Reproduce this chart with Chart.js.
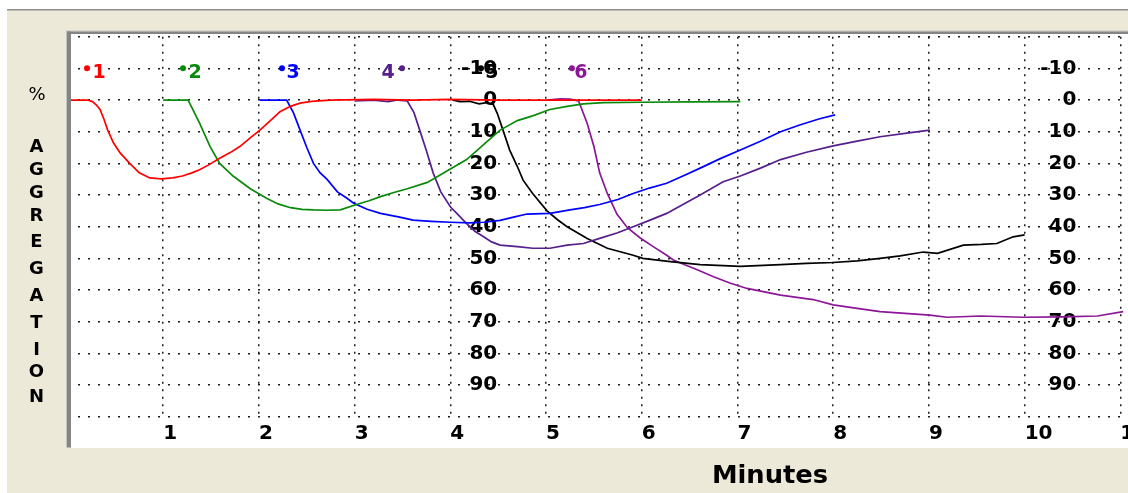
<!DOCTYPE html>
<html>
<head>
<meta charset="utf-8">
<script src="https://cdn.jsdelivr.net/npm/chart.js@4.4.1/dist/chart.umd.min.js"></script>
<style>
  html, body { margin: 0; padding: 0; background: #ffffff; }
  canvas { display: block; }
</style>
</head>
<body>
<canvas id="agg" width="1128" height="493"></canvas>
<script>
// Platelet aggregation traces, six channels; time in minutes, aggregation in %
const minutes1 = [0, 0.21, 0.26, 0.30, 0.34, 0.38, 0.42, 0.48, 0.55, 0.65, 0.75, 0.86, 0.98, 1.10, 1.20, 1.30, 1.38, 1.48, 1.59, 1.70, 1.80, 1.90, 2.01, 2.12, 2.22, 2.33, 2.43, 2.55, 2.74, 3.20, 3.60, 4.00, 4.50, 5.00, 5.50, 6.00];
const aggregation1 = [0, 0, 0.5, 1.5, 3, 6, 9.5, 13.5, 16.7, 20, 23, 24.6, 24.9, 24.6, 24, 23, 22, 20.4, 18.4, 16.6, 14.7, 12.2, 9.5, 6.5, 3.7, 2, 1, 0.4, 0, -0.2, 0, -0.2, 0, 0, 0, 0];

const minutes2 = [1.00, 1.26, 1.31, 1.38, 1.49, 1.59, 1.73, 1.91, 2.08, 2.20, 2.33, 2.45, 2.57, 2.70, 2.85, 3.02, 3.15, 3.27, 3.41, 3.55, 3.76, 3.96, 4.17, 4.38, 4.52, 4.70, 4.86, 5.04, 5.22, 5.39, 5.60, 6.00, 6.50, 7.03];
const aggregation2 = [0, 0, 3, 7.3, 14.7, 20, 24, 28, 31, 32.8, 34, 34.5, 34.7, 34.8, 34.7, 33, 31.8, 30.5, 29.2, 28, 26, 22.5, 18.8, 13.2, 9.5, 6.5, 5, 3, 2, 1.2, 0.8, 0.7, 0.6, 0.5];

const minutes3 = [2.01, 2.29, 2.36, 2.43, 2.50, 2.57, 2.64, 2.71, 2.82, 2.92, 2.99, 3.13, 3.27, 3.47, 3.61, 3.80, 4.00, 4.20, 4.35, 4.52, 4.66, 4.80, 5.04, 5.25, 5.40, 5.56, 5.75, 5.91, 6.08, 6.26, 6.43, 6.61, 6.82, 7.03, 7.24, 7.45, 7.65, 7.85, 8.02];
const aggregation3 = [0, 0, 4, 9.5, 15, 20, 23, 25, 29, 31, 32.6, 34.5, 35.8, 37, 37.9, 38.3, 38.6, 38.8, 38.6, 38, 37, 36, 35.8, 34.7, 34, 33, 31.4, 29.5, 27.8, 26.3, 24, 21.5, 18.5, 15.8, 13, 10, 7.9, 6, 4.7];

const minutes4 = [3.00, 3.20, 3.35, 3.45, 3.55, 3.62, 3.68, 3.75, 3.82, 3.90, 4.00, 4.09, 4.17, 4.26, 4.34, 4.43, 4.52, 4.70, 4.86, 5.04, 5.22, 5.39, 5.56, 5.74, 5.91, 6.08, 6.26, 6.43, 6.61, 6.85, 7.03, 7.24, 7.45, 7.72, 8.00, 8.25, 8.49, 8.75, 9.01];
const aggregation4 = [0.3, 0, 0.5, 0, 0.3, 4, 9.5, 16, 23, 29, 33.7, 36.5, 39, 41.5, 43, 44.8, 45.8, 46.3, 46.8, 46.8, 45.8, 45.3, 43.7, 42, 40, 38, 35.8, 33, 30, 25.8, 24, 21.5, 18.8, 16.5, 14.5, 13, 11.6, 10.5, 9.5];

const minutes5 = [4.02, 4.10, 4.20, 4.30, 4.38, 4.45, 4.49, 4.55, 4.62, 4.70, 4.76, 4.86, 5.01, 5.12, 5.22, 5.43, 5.64, 5.91, 6.01, 6.30, 6.61, 7.03, 7.45, 7.72, 8.00, 8.25, 8.49, 8.70, 8.94, 9.09, 9.36, 9.55, 9.71, 9.88, 10.00];
const aggregation5 = [0, 0.5, 0.4, 1.2, 0.8, 1.5, 4.2, 9.5, 15.8, 21, 25.3, 29.5, 35, 37.8, 40, 43.7, 46.8, 49, 50, 51, 52, 52.5, 52, 51.6, 51.3, 50.8, 50, 49.2, 48, 48.4, 45.8, 45.6, 45.3, 43.2, 42.6];

const minutes6 = [5.01, 5.15, 5.25, 5.34, 5.43, 5.50, 5.56, 5.64, 5.74, 5.85, 5.98, 6.12, 6.26, 6.33, 6.45, 6.58, 6.75, 6.92, 7.10, 7.45, 7.79, 8.00, 8.25, 8.49, 8.75, 9.01, 9.19, 9.54, 9.98, 10.40, 10.76, 11.03];
const aggregation6 = [0, -0.4, -0.3, 0.3, 7.4, 14.7, 23, 29.5, 36, 40.3, 43.5, 46.3, 49, 50.5, 52, 53.6, 55.8, 57.8, 59.5, 61.6, 63, 64.7, 65.8, 66.8, 67.4, 67.9, 68.6, 68.2, 68.6, 68.5, 68.2, 66.8];

const channelNames = ['1', '2', '3', '4', '5', '6'];
const channelColors = ['#ff0000', '#0a8a0a', '#0000ff', '#561f8c', '#000000', '#8c1796'];
const minuteTicks = [1, 2, 3, 4, 5, 6, 7, 8, 9, 10, 11];
const percentTicks = [-10, 0, 10, 20, 30, 40, 50, 60, 70, 80, 90];
const yAxisLetters = ['A', 'G', 'G', 'R', 'E', 'G', 'A', 'T', 'I', 'O', 'N'];

const series = [
  [minutes1, aggregation1],
  [minutes2, aggregation2],
  [minutes3, aggregation3],
  [minutes4, aggregation4],
  [minutes5, aggregation5],
  [minutes6, aggregation6]
];

const datasets = series.map(([t, v], i) => ({
  label: channelNames[i],
  data: t.map((m, k) => ({ x: m, y: v[k] })),
  borderColor: channelColors[i],
  borderWidth: 1.7,
  pointRadius: 0,
  tension: 0,
  fill: false
}));

const FONT = 'DejaVu Sans';

// Window chrome, white plot panel and its sunken frame
const panelPlugin = {
  id: 'panel',
  beforeDraw(chart) {
    const ctx = chart.ctx;
    ctx.save();
    ctx.fillStyle = '#ffffff';
    ctx.fillRect(0, 0, chart.width, chart.height);
    ctx.fillStyle = '#ece9d8';
    ctx.fillRect(7, 10, chart.width - 7, chart.height - 10);
    ctx.fillStyle = '#8e8e8e';
    ctx.fillRect(7, 9, chart.width - 7, 1.5);
    ctx.fillStyle = '#ffffff';
    ctx.fillRect(71, 34, chart.width - 71, 414);
    ctx.restore();
  },
  afterDatasetsDraw(chart) {
    const ctx = chart.ctx;
    ctx.save();
    ctx.fillStyle = '#c4c4c4';
    ctx.fillRect(66, 30.5, chart.width - 66, 1);
    ctx.fillRect(66, 30.5, 1, 417);
    ctx.fillStyle = '#858585';
    ctx.fillRect(67, 31.5, chart.width - 67, 2.5);
    ctx.fillRect(67, 31.5, 4, 416);
    ctx.restore();
  },
  afterDraw(chart) {
    const ctx = chart.ctx;
    const xs = chart.scales.x;
    const ys = chart.scales.y;
    ctx.save();
    ctx.fillStyle = '#000000';
    ctx.textAlign = 'center';
    ctx.textBaseline = 'middle';

    ctx.font = '18px "' + FONT + '"';
    ctx.fillText('%', 37, 95);

    ctx.font = 'bold 18px "' + FONT + '"';
    const letterY = [147, 170, 193, 216, 242, 269, 296, 323, 350, 372, 397];
    yAxisLetters.forEach((ch, i) => ctx.fillText(ch, 36.5, letterY[i]));

    // x-axis title, drawn a little wide like the instrument's own font
    ctx.font = 'bold 25px "' + FONT + '"';
    ctx.save();
    ctx.translate(770, 476);
    ctx.scale(1.03, 1);
    ctx.fillText('Minutes', 0, 0);
    ctx.restore();

    // channel markers along the -10 line
    const spots = [
      { at: 0.204, dx: 12 },
      { at: 1.207, dx: 12 },
      { at: 2.241, dx: 11 },
      { at: 3.495, dx: -14 },
      { at: 4.320, dx: 11 },
      { at: 5.270, dx: 9 }
    ];
    const yRow = ys.getPixelForValue(-10);
    ctx.font = 'bold 19px "' + FONT + '"';
    spots.forEach((s, i) => {
      const px = xs.getPixelForValue(s.at);
      ctx.fillStyle = channelColors[i];
      ctx.beginPath();
      ctx.arc(px, yRow, 3, 0, Math.PI * 2);
      ctx.fill();
      ctx.fillText(channelNames[i], px + s.dx, yRow + 5);
    });
    ctx.restore();
  }
};

const percentLabel = v => (percentTicks.includes(v) ? String(v) : '');
const tickFont = { family: FONT, weight: 'bold', size: 20 };

new Chart(document.getElementById('agg'), {
  type: 'line',
  data: { datasets },
  plugins: [panelPlugin],
  options: {
    responsive: false,
    animation: false,
    events: [],
    layout: { padding: { left: 67.5, top: 36.7, right: 0, bottom: 46.3 } },
    plugins: { legend: { display: false }, tooltip: { enabled: false } },
    scales: {
      x: {
        type: 'linear',
        position: 'bottom',
        min: 0,
        max: 11.08,
        ticks: {
          stepSize: 1,
          includeBounds: false,
          autoSkip: false,
          maxRotation: 0,
          align: 'start',
          padding: 5,
          color: '#000000',
          font: { family: FONT, weight: 'bold', size: 20 },
          callback: v => (minuteTicks.includes(v) ? String(v) : '')
        },
        grid: { color: '#1e1e1e', lineWidth: 1.5, drawTicks: false },
        border: { display: false, dash: [2, 5.5] },
        afterFit: s => { s.height = 30; s.paddingLeft = 0; s.paddingRight = 0; }
      },
      y: {
        type: 'linear',
        position: 'left',
        min: -20,
        max: 100,
        reverse: true,
        ticks: { display: false, stepSize: 10 },
        grid: { color: '#1e1e1e', lineWidth: 1.5, drawTicks: false },
        border: { display: false, dash: [2, 8] },
        afterFit: s => { s.width = 0; s.paddingTop = 0; s.paddingBottom = 0; }
      },
      yMid: {
        type: 'linear',
        position: { x: 4.49 },
        min: -20,
        max: 100,
        reverse: true,
        ticks: { stepSize: 10, padding: 0, color: '#000000', font: tickFont, callback: percentLabel },
        grid: { display: false, drawTicks: false },
        border: { display: false }
      },
      yRight: {
        type: 'linear',
        position: { x: 10.54 },
        min: -20,
        max: 100,
        reverse: true,
        ticks: { stepSize: 10, padding: 0, color: '#000000', font: tickFont, callback: percentLabel },
        grid: { display: false, drawTicks: false },
        border: { display: false }
      }
    }
  }
});
</script>
</body>
</html>
